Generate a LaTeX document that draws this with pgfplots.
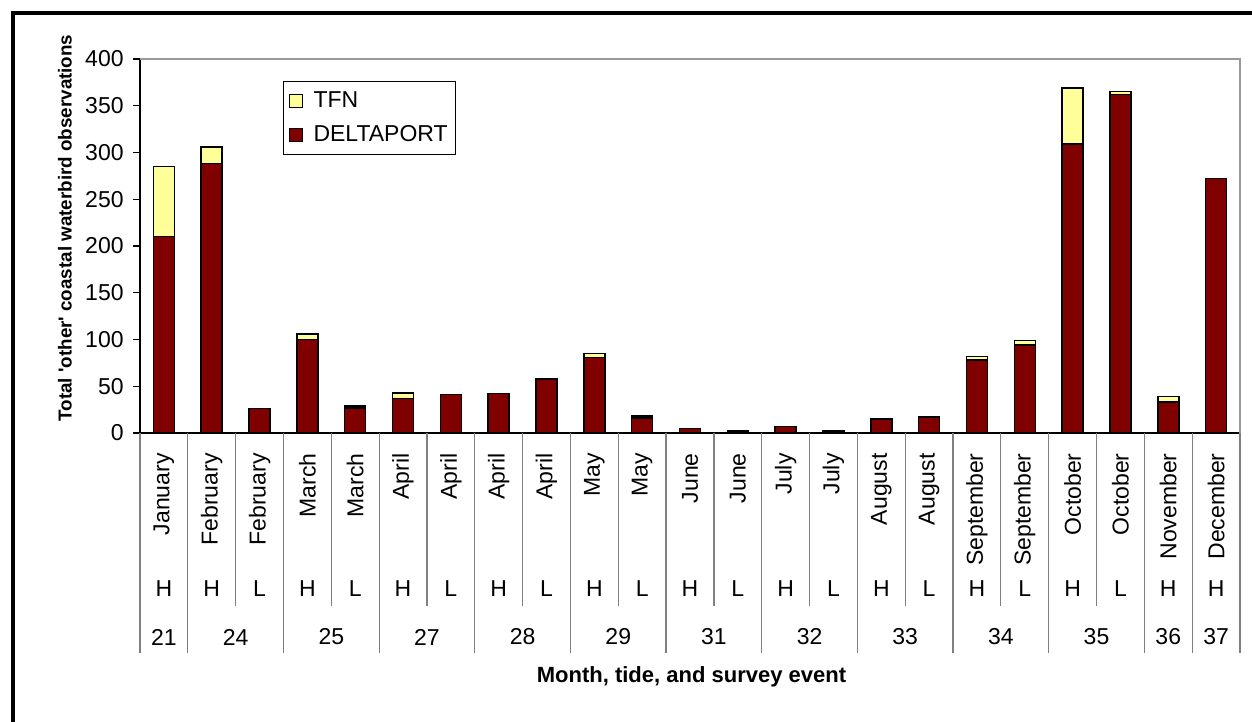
\documentclass[border=0pt]{standalone}
\usepackage{pgfplots}
\pgfplotsset{compat=1.18}
\usepackage{fontspec}
\setmainfont{Liberation Sans}
\newfontfamily\plainf{Liberation Sans}
\definecolor{dport}{HTML}{800000}
\definecolor{tfn}{HTML}{FFFF99}
\definecolor{plotgray}{HTML}{999999}
\definecolor{sepgray}{HTML}{808080}

% survey counts, one row per month/tide/event
\pgfplotstableread{
x dport tfn
1 210 75
2 288 18
3 26 0
4 100 6
5 27 2
6 37 6
7 41 0
8 42 0
9 58 0
10 81 4
11 16 2
12 5 0
13 2 0
14 7 0
15 2 0
16 15 0
17 17 0
18 78 4
19 94 5
20 309 60
21 362 3
22 33 6
23 272 0
}\counts

\begin{document}
\begin{tikzpicture}[x=1pt,y=1pt]
\path[use as bounding box] (0,0) rectangle (626,361);
\draw[line width=1.6pt] (6.5,-2) -- (6.5,354.5) -- (630,354.5);
\begin{axis}[
  at={(70pt,144.5pt)}, anchor=south west,
  scale only axis, width=550pt, height=187pt,
  ybar stacked, bar width=10.5pt,
  xmin=0.5, xmax=23.5, ymin=0, ymax=400,
  ytick={0,50,...,400},
  xtick={1,...,23},
  xticklabels={January,February,February,March,March,April,April,April,April,May,May,June,June,July,July,August,August,September,September,October,October,November,December},
  axis x line*=bottom, axis y line*=left,
  axis line style={black, line width=0.8pt},
  tick align=outside, major tick length=3.5pt,
  xtick style={draw=none},
  ytick style={black, line width=0.6pt},
  /pgf/number format/assume math mode=true,
  tick label style={font=\fontsize{11.5}{13}\selectfont},
  xticklabel style={rotate=90, anchor=east, inner sep=0pt},
  xticklabel shift=6.5pt,
  yticklabel style={inner sep=4.5pt},
  every axis plot/.append style={draw=black, line width=0.75pt},
  reverse legend,
  legend cell align=left,
  legend style={at={(0.13,0.941)}, anchor=north west, draw=black, line width=0.5pt,
    font=\fontsize{11.5}{13}\selectfont, inner xsep=2pt, inner ysep=3pt, row sep=3.5pt},
  legend image code/.code={\path[draw=none,fill=none] (0pt,0pt) -- (11pt,0pt);
    \draw[#1,draw=black,line width=0.8pt] (1pt,-3.2pt) rectangle (7.4pt,3.2pt);},
  clip=false,
]
\addplot[fill=dport] table[x=x, y=dport] {\counts};
\addlegendentry{DELTAPORT}
\addplot[fill=tfn] table[x=x, y=tfn] {\counts};
\addlegendentry{TFN}
\end{axis}

% grey frame of the plot area
\draw[plotgray, line width=0.8pt] (70,331.5) -- (620,331.5) -- (620,144.5);

% separators of the category table
\foreach \k in {2,4,...,20}
  \draw[sepgray, line width=0.6pt] ({70+\k*550/23},144.5) -- ({70+\k*550/23},58);
\foreach \k in {0,1,3,5,7,9,11,13,15,17,19,21,22,23}
  \draw[sepgray, line width=0.6pt] ({70+\k*550/23},144.5) -- ({70+\k*550/23},34.5);

\foreach \t [count=\i] in {H,H,L,H,L,H,L,H,L,H,L,H,L,H,L,H,L,H,L,H,L,H,H}
  \node[font=\fontsize{11.5}{13}\selectfont] at ({70+(\i-0.5)*550/23},66.5) {\t};

\foreach \c/\n in {1/21,2.5/24,4.5/25,6.5/27,8.5/28,10.5/29,12.5/31,14.5/32,16.5/33,18.5/34,20.5/35,22/36,23/37}
  \node[font=\fontsize{11.5}{13}\selectfont] at ({70+(\c-0.5)*550/23},42.5) {\n};

\node[font=\bfseries\fontsize{11}{13}\selectfont] at (345.75,22.5) {Month, tide, and survey event};
\node[rotate=90, font=\plainf\bfseries\fontsize{9.4}{11}\selectfont] at (32.5,247) {Total 'other' coastal waterbird observations};
\end{tikzpicture}
\end{document}
